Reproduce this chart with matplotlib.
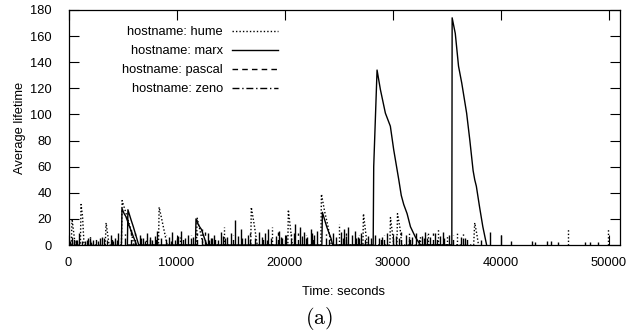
import matplotlib
matplotlib.use('Agg')
import matplotlib.pyplot as plt

plt.rcParams['font.family'] = ['Liberation Sans', 'DejaVu Sans']
plt.rcParams['mathtext.fontset'] = 'cm'

# Average lifetime per host (seconds / lifetime units)
# ramps: sharp rise then a linear-ish decay
hume_t = [250, 330, 620, 1100, 1160, 1300, 1440, 3400, 3480, 3760,
          4900, 4960, 5300, 5700, 6050, 8330, 8390, 8700, 9130,
          11850, 11900, 12200, 12470, 16870, 16920, 17200, 17470,
          20300, 20350, 20550, 20720, 23360, 23410, 23700, 24000, 24330,
          27250, 27300, 27500, 27650, 29750, 29800, 30000, 30100,
          30400, 30450, 30700, 30850, 37500, 37600, 37800, 37950]
hume_v = [0, 20, 0, 0, 31, 22, 0, 0, 17, 0,
          0, 34, 25, 14, 0, 0, 29, 17, 0,
          0, 21, 10, 0, 0, 29, 15, 0,
          0, 27, 12, 0, 0, 39, 26, 15, 0,
          0, 24, 10, 0, 0, 21, 8, 0,
          0, 24, 12, 0, 0, 17, 8, 0]
# short isolated spikes
hume_spike_t = [2000, 7200, 10300, 14400, 18860, 25000, 31500, 32500,
                33300, 34200, 35000, 36000, 46200, 49900]
hume_spike_h = [8, 5, 6, 14, 14, 16, 10, 8, 9, 12, 8, 10, 12, 12]

marx_t = [4900, 4950, 5150, 5300, 5700, 6300, 5450, 5500, 5800, 6000, 6500,
          11750, 11800, 12050, 12300, 12800, 23450, 23500, 23900, 24300, 24450,
          28200, 28250, 28560, 28870, 29330, 29790, 30100, 30570, 30800, 31030,
          31340, 31650, 32110, 32570,
          35480, 35510, 35800, 36100, 36400, 36850, 37150, 37450, 37600, 37750,
          38050, 38350, 38700]
marx_v = [0, 28, 24, 22, 13, 0, 0, 27, 19, 14, 0,
          0, 20, 15, 12, 0, 0, 25, 14, 5, 0,
          0, 60, 134, 119, 101, 91, 73, 50, 38, 31,
          24, 14, 6, 0,
          0, 174, 162, 137, 124, 101, 80, 57, 50, 45,
          29, 14, 0]
marx_spike_t = [150, 300, 500, 700, 1000, 1250, 1500, 1800, 2100, 2300, 2700,
                2900, 3100, 3600, 3900, 4150, 4300, 4600, 6600, 6900, 7100,
                7300, 7500, 7700, 8000, 8200, 9300, 9450, 9600, 9900, 10150,
                10400, 10800, 11100, 11500, 12900, 13050, 13200, 13500, 13800,
                14100, 14300, 14700, 15000, 15400, 15700, 16000, 16300, 16600,
                17600, 17900, 18200, 18350, 18500, 19200, 19500, 19650, 19800,
                20100, 20900, 21000, 21400, 21600, 21800, 22100, 22400, 22550,
                22700, 23000, 24500, 24800, 25200, 25500, 25650, 25900, 26200,
                26500, 26650, 26800, 27100, 27700, 28000, 28400, 29000, 29500,
                30300, 31200, 31800, 32200, 32700, 33000, 33500, 33900, 34400,
                34700, 35200, 36300, 36700, 39000, 40000, 42900, 43200, 44300]
marx_spike_h = [3, 6, 2, 4, 9, 3, 3, 5, 2, 4, 3,
                5, 6, 4, 8, 3, 5, 9, 8, 5, 3,
                9, 6, 4, 7, 11, 6, 3, 10, 4, 7,
                11, 5, 8, 6, 9, 4, 5, 8, 4,
                10, 7, 6, 9, 19, 7, 12, 5, 8,
                10, 6, 9, 4, 12, 7, 11, 6, 5,
                8, 9, 16, 14, 7, 10, 6, 12, 9,
                8, 11, 9, 6, 10, 12, 7, 14, 8,
                11, 5, 6, 9, 7, 5, 8, 6, 9,
                7, 8, 6, 9, 7, 10, 6, 9, 7,
                10, 8, 6, 5, 10, 8, 3, 2, 3]

pascal_spike_t = [500, 1700, 2500, 4000, 5800, 6200, 7500, 8100, 9000, 10600,
                  11900, 12600, 13600, 15200, 16800, 18000, 19400, 20000,
                  21200, 22600, 24100, 25700, 27400, 28900, 29200, 30800,
                  31600, 32400, 33700, 34100, 35600, 36900, 41000, 44700, 47800]
pascal_spike_h = [5, 4, 6, 7, 12, 9, 6, 5, 8, 7,
                  9, 10, 6, 8, 9, 7, 10, 6,
                  9, 7, 8, 9, 6, 7, 8, 10,
                  5, 7, 9, 6, 8, 6, 3, 3, 2]

zeno_spike_t = [800, 2000, 3300, 4450, 5200, 6700, 8600, 10000, 11300, 12400,
                13300, 14500, 16100, 17300, 18700, 20600, 22000, 23800, 25400,
                26900, 28700, 30000, 30550, 31500, 32900, 33200, 34800, 36500,
                38200, 45300, 48300, 49000]
zeno_spike_h = [4, 5, 6, 4, 10, 6, 7, 5, 8, 12,
                5, 7, 6, 8, 6, 9, 8, 10, 7,
                8, 7, 9, 6, 6, 5, 8, 7, 9,
                4, 2, 2, 2]

W, H = 636, 333
fig = plt.figure(figsize=(W / 100, H / 100), dpi=100)
ax = fig.add_axes([68.5 / W, 1 - 245 / H, (619.5 - 68.5) / W, (245 - 10) / H])

lw = 1.0
ls_hume = (0, (1, 1.5))
ls_pascal = (0, (4, 3))
ls_zeno = (0, (5, 2, 1, 2))

# spikes first, then ramp lines (these carry the legend labels)
ax.vlines(hume_spike_t, 0, hume_spike_h, colors='k', lw=lw, linestyles=ls_hume)
ax.vlines(marx_spike_t, 0, marx_spike_h, colors='k', lw=lw)
ax.vlines(pascal_spike_t, 0, pascal_spike_h, colors='k', lw=lw, linestyles=ls_pascal)
ax.vlines(zeno_spike_t, 0, zeno_spike_h, colors='k', lw=lw, linestyles=ls_zeno)

ax.plot(hume_t, hume_v, color='k', lw=lw, ls=ls_hume, label='hostname: hume')
ax.plot(marx_t, marx_v, color='k', lw=lw, label='hostname: marx')
ax.plot([], [], color='k', lw=lw, ls=ls_pascal, label='hostname: pascal')
ax.plot([], [], color='k', lw=lw, ls=ls_zeno, label='hostname: zeno')

ax.set_xlim(0, 51000)
ax.set_ylim(0, 180)
ax.set_xticks(range(0, 50001, 10000))
ax.set_yticks(range(0, 181, 20))
ax.tick_params(direction='in', length=7, width=0.8, top=True, right=True,
               labelsize=9.3)
ax.tick_params(axis='y', pad=12)
ax.tick_params(axis='x', pad=9)
for s in ax.spines.values():
    s.set_linewidth(0.9)

fig.legend(loc='upper right', bbox_to_anchor=(278 / W, 1 - 26 / H),
           frameon=False, markerfirst=False, fontsize=9.3,
           handlelength=3.6, handletextpad=0.65, labelspacing=0.55,
           borderpad=0, borderaxespad=0)

fig.text(20 / W, 1 - 127.5 / H, 'Average lifetime', rotation=90,
         ha='center', va='center', fontsize=9.3)
fig.text((68.5 + 619.5) / 2 / W, 1 - 292 / H, 'Time: seconds',
         ha='center', va='center', fontsize=9.3)
fig.text(319 / W, 1 - 318 / H, r'$\mathrm{(a)}$', ha='center', va='center',
         fontsize=16)

fig.savefig('out.png', dpi=100)
